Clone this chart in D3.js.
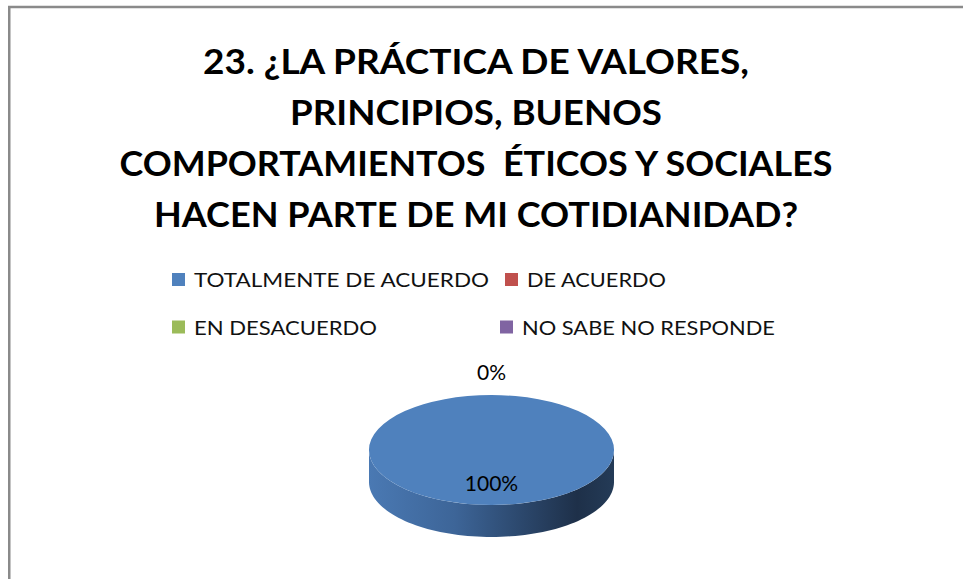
<!DOCTYPE html>
<html>
<head>
<meta charset="utf-8">
<script src="https://cdn.jsdelivr.net/npm/d3@7"></script>
<style>
  html, body { margin: 0; padding: 0; background: #fff; }
  svg { display: block; }
</style>
</head>
<body>
<svg id="chart" width="963" height="579"></svg>
<script>
// Survey answers for question 23
const categories = ["TOTALMENTE DE ACUERDO", "DE ACUERDO", "EN DESACUERDO", "NO SABE NO RESPONDE"];
const values = [100, 0, 0, 0];
const colors = ["#4F81BD", "#C0504D", "#9BBB59", "#8064A2"];
const titleLines = [
  "23. ¿LA PRÁCTICA DE VALORES,",
  "PRINCIPIOS, BUENOS",
  "COMPORTAMIENTOS  ÉTICOS Y SOCIALES",
  "HACEN PARTE DE MI COTIDIANIDAD?"
];
const titleWidths = [546, 372, 713, 644];
const legendWidths = [295, 139, 183, 253];

const svg = d3.select("#chart");
const W = 963, H = 579;

// Chart area frame (right/bottom edges run past the page)
svg.append("rect")
  .attr("x", 9.25).attr("y", 7)
  .attr("width", W + 20).attr("height", H + 20)
  .attr("fill", "#fff")
  .attr("stroke", "#8a8a8a")
  .attr("stroke-width", 2.5);

// Title
const titleY = d3.scaleLinear().domain([0, 3]).range([74, 227]);
svg.append("g").selectAll("text")
  .data(titleLines)
  .join("text")
  .attr("x", 476)
  .attr("y", (d, i) => titleY(i))
  .attr("text-anchor", "middle")
  .attr("font-family", "Lato, 'Open Sans', sans-serif")
  .attr("font-weight", 700)
  .attr("font-size", 35)
  .attr("fill", "#000")
  .attr("textLength", (d, i) => titleWidths[i])
  .attr("lengthAdjust", "spacingAndGlyphs")
  .attr("xml:space", "preserve")
  .text(d => d);

// Legend: two columns, two rows
const legCol = d3.scaleOrdinal().domain([0, 1]).range([172, 500]);
const legRow = d3.scaleOrdinal().domain([0, 1]).range([279.5, 327]);
const legend = svg.append("g").selectAll("g")
  .data(categories)
  .join("g")
  .attr("transform", (d, i) => {
    const col = i % 2, row = Math.floor(i / 2);
    const dx = (i === 1) ? 5 : 0;
    return `translate(${legCol(col) + dx},${legRow(row)})`;
  });
legend.append("rect")
  .attr("x", 0).attr("y", -6.5)
  .attr("width", 13).attr("height", 13)
  .attr("fill", (d, i) => colors[i]);
legend.append("text")
  .attr("x", 22)
  .attr("y", 7.5)
  .attr("font-family", "Lato, 'Open Sans', sans-serif")
  .attr("font-size", 20)
  .attr("fill", "#111")
  .attr("textLength", (d, i) => legendWidths[i])
  .attr("lengthAdjust", "spacingAndGlyphs")
  .text(d => d);

// 3D pie
const cx = 491.5, cy = 450, rx = 122.5, ry = 55, depth = 32;
const k = ry / rx;
const pie = d3.pie().sort(null).value(d => d);
const arcs = pie(values);
const arc = d3.arc().innerRadius(0).outerRadius(rx);

const defs = svg.append("defs");
const grad = defs.append("linearGradient")
  .attr("id", "sideGrad")
  .attr("gradientUnits", "userSpaceOnUse")
  .attr("x1", cx - rx).attr("x2", cx + rx)
  .attr("y1", 0).attr("y2", 0);
[[0, "#4A79B3"], [0.35, "#3D6598"], [0.6, "#2D4A70"], [0.85, "#1E3049"], [1, "#243B57"]]
  .forEach(([o, c]) => grad.append("stop").attr("offset", o).attr("stop-color", c));

// point on the top ellipse for a d3 pie angle (0 = 12 o'clock, clockwise)
const ex = a => cx + rx * Math.sin(a);
const ey = a => cy - ry * Math.cos(a);

const pieG = svg.append("g");

// Side walls: only the front half (angles between PI/2 and 3PI/2) is visible
arcs.forEach((a, i) => {
  const s = Math.max(a.startAngle, Math.PI / 2);
  const e = Math.min(a.endAngle, 3 * Math.PI / 2);
  if (e <= s) return;
  const n = 80;
  const angs = d3.range(n + 1).map(j => s + (e - s) * j / n);
  const top = angs.map(t => [ex(t), ey(t)]);
  const bot = angs.slice().reverse().map(t => [ex(t), ey(t) + depth]);
  pieG.append("path")
    .attr("d", d3.line()(top.concat(bot)) + "Z")
    .attr("fill", i === 0 ? "url(#sideGrad)" : d3.color(colors[i]).darker(1));
});

// Top faces
pieG.append("g")
  .attr("transform", `translate(${cx},${cy}) scale(1,${k})`)
  .selectAll("path")
  .data(arcs)
  .join("path")
  .attr("d", arc)
  .attr("fill", (d, i) => colors[i]);

// Data labels (zero-size slices share one spot, so only the first of them is shown)
const fmt = v => Math.round(v) + "%";
const labelPos = d => {
  const m = (d.startAngle + d.endAngle) / 2;
  return d.value === 0
    ? [ex(m), ey(m) - 15]
    : [cx + 0.6 * rx * Math.sin(m), cy - 0.6 * ry * Math.cos(m) + 8];
};
const seen = new Set();
const shown = arcs.filter(d => {
  const p = labelPos(d), key = p.map(v => v.toFixed(1)).join(",");
  if (seen.has(key)) return false;
  seen.add(key);
  return true;
});
pieG.append("g").selectAll("text")
  .data(shown)
  .join("text")
  .attr("text-anchor", "middle")
  .attr("font-family", "Lato, 'Open Sans', sans-serif")
  .attr("font-size", 21)
  .attr("fill", "#000")
  .attr("x", d => labelPos(d)[0])
  .attr("y", d => labelPos(d)[1])
  .text(d => fmt(d.value));
</script>
</body>
</html>
